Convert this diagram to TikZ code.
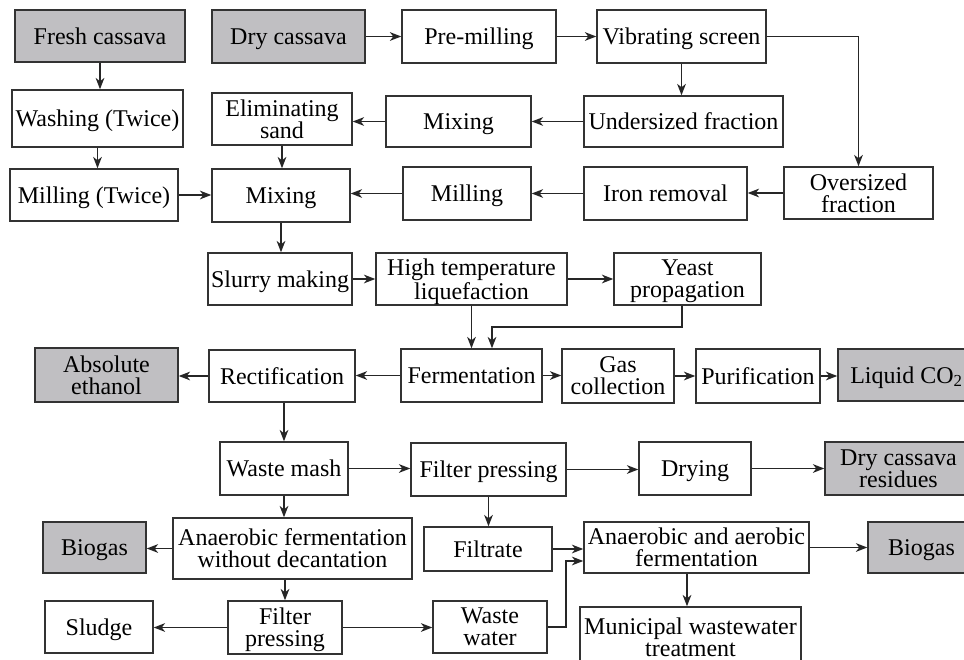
\documentclass[tikz,border=0pt]{standalone}
\usepackage{fontspec}
\setmainfont{Liberation Serif}
\usetikzlibrary{arrows.meta,calc}
\newcommand{\bx}[7]{\node[#7, minimum width={(#4-#2)*0.75pt}, minimum height={(#5-#3)*0.75pt}] (#1) at ({(#2+#4)/2},{(#3+#5)/2}) {#6};}
\tikzset{
  proc/.style={draw=black!80, line width=1.1pt, fill=white, inner sep=0pt, text depth=0pt, align=center, font=\fontsize{18}{16.5}\selectfont},
  prod/.style={proc, fill=prodgray},
  arr/.style={draw=black!85, line width=1.1pt, -{Stealth[length=8.5pt,width=6.5pt,inset=2.5pt]}}
}
\definecolor{prodgray}{RGB}{192,191,194}
\begin{document}
\begin{tikzpicture}[x=0.75pt,y=-0.75pt]
\useasboundingbox (0,0) rectangle (964,660);
\clip (0,0) rectangle (964,660);
\fill[white] (0,0) rectangle (964,660);
% row 1
\bx{fresh}{15}{10}{185}{62}{Fresh cassava}{prod}
\bx{dry}{212}{10}{365}{63}{Dry cassava}{prod}
\bx{premill}{402}{10}{556}{63}{Pre-milling}{proc}
\bx{vib}{597}{10}{766}{63}{Vibrating screen}{proc}
% row 2
\bx{wash}{12}{90}{183}{147}{Washing (Twice)}{proc}
\bx{elim}{212}{93}{352}{145}{Eliminating\\sand}{proc}
\bx{mixa}{386}{96}{531}{147}{Mixing}{proc}
\bx{under}{584}{96}{783}{147}{Undersized fraction}{proc}
% row 3
\bx{millt}{10}{169}{178}{221}{Milling (Twice)}{proc}
\bx{mixm}{212}{169}{350}{222}{Mixing}{proc}
\bx{mill}{403}{167}{531}{220}{Milling}{proc}
\bx{iron}{584}{167}{747}{220}{Iron removal}{proc}
\bx{over}{784}{167}{933}{219}{Oversized\\fraction}{proc}
% row 4
\bx{slurry}{208}{253}{352}{305}{Slurry making}{proc}
\bx{hight}{376}{253}{567}{305}{High temperature\\liquefaction}{proc}
\bx{yeast}{614}{253}{761}{305}{Yeast\\propagation}{proc}
% row 5
\bx{absol}{35}{348}{178}{402}{Absolute\\ethanol}{prod}
\bx{rect}{209}{350}{355}{402}{Rectification}{proc}
\bx{ferm}{401}{349}{542}{402}{Fermentation}{proc}
\bx{gas}{562}{349}{674}{403}{Gas\\collection}{proc}
\bx{puri}{696}{349}{820}{403}{Purification}{proc}
\bx{lco}{838}{349}{975}{401}{Liquid CO\textsubscript{2}}{prod}
% row 6
\bx{wm}{220}{442}{348}{495}{Waste mash}{proc}
\bx{fpa}{411}{443}{566}{496}{Filter pressing}{proc}
\bx{dryg}{639}{442}{751}{495}{Drying}{proc}
\bx{dcr}{825}{442}{972}{495}{Dry cassava\\residues}{prod}
% row 7
\bx{bgl}{43}{522}{146}{573}{Biogas}{prod}
\bx{anaer}{173}{518}{412}{579}{Anaerobic fermentation\\without decantation}{proc}
\bx{filt}{424}{527}{552}{571}{Filtrate}{proc}
\bx{anaerb}{584}{522}{809}{573}{Anaerobic and aerobic\\fermentation}{proc}
\bx{bgr}{868}{522}{975}{573}{Biogas}{prod}
% row 8
\bx{sludge}{45}{601}{153}{653}{Sludge}{proc}
\bx{fpb}{228}{601}{342}{654}{Filter\\pressing}{proc}
\bx{ww}{433}{601}{547}{653}{Waste\\water}{proc}
\bx{muni}{580}{607}{801}{668}{Municipal wastewater\\treatment}{proc}
% helper coordinates
\coordinate (yk) at (682,327);
\coordinate (fk) at (492,0);
\coordinate (wk) at (566,561);
\coordinate (mk) at (687,0);
\coordinate (rk) at (284,0);
% connectors
\draw[arr] (fresh.south) -- (fresh.south |- wash.north);
\draw[arr] (wash.south) -- (wash.south |- millt.north);
\draw[arr] (millt.east) -- (millt.east -| mixm.west);
\draw[arr] (dry.east) -- (dry.east -| premill.west);
\draw[arr] (premill.east) -- (premill.east -| vib.west);
\draw[arr] (vib.south) -- (vib.south |- under.north);
\draw[arr] (vib.east) -| (over.north);
\draw[arr] (under.west) -- (under.west -| mixa.east);
\draw[arr] (mixa.west) -- (mixa.west -| elim.east);
\draw[arr] (elim.south) -- (elim.south |- mixm.north);
\draw[arr] (over.west) -- (over.west -| iron.east);
\draw[arr] (iron.west) -- (iron.west -| mill.east);
\draw[arr] (mill.west) -- (mill.west -| mixm.east);
\draw[arr] (mixm.south) -- (mixm.south |- slurry.north);
\draw[arr] (slurry.east) -- (slurry.east -| hight.west);
\draw[arr] (hight.east) -- (hight.east -| yeast.west);
\draw[arr] (hight.south) -- (hight.south |- ferm.north);
\draw[arr] (yk |- yeast.south) -- (yk) -- (yk -| fk) -- (fk |- ferm.north);
\draw[arr] (ferm.west) -- (ferm.west -| rect.east);
\draw[arr] (rect.west) -- (rect.west -| absol.east);
\draw[arr] (ferm.east) -- (ferm.east -| gas.west);
\draw[arr] (gas.east) -- (gas.east -| puri.west);
\draw[arr] (puri.east) -- (puri.east -| lco.west);
\draw[arr] (rk |- rect.south) -- (rk |- wm.north);
\draw[arr] (wm.east) -- (wm.east -| fpa.west);
\draw[arr] (fpa.east) -- (fpa.east -| dryg.west);
\draw[arr] (dryg.east) -- (dryg.east -| dcr.west);
\draw[arr] (fpa.south) -- (fpa.south |- filt.north);
\draw[arr] (rk |- wm.south) -- (rk |- anaer.north);
\draw[arr] (anaer.west) -- (anaer.west -| bgl.east);
\draw[arr] (fpb.north |- anaer.south) -- (fpb.north);
\draw[arr] (fpb.west) -- (fpb.west -| sludge.east);
\draw[arr] (fpb.east) -- (fpb.east -| ww.west);
\draw[arr] (filt.east) -- (filt.east -| anaerb.west);
\draw[arr] (ww.east) -| (wk) -- (wk -| anaerb.west);
\draw[arr] (anaerb.east) -- (anaerb.east -| bgr.west);
\draw[arr] (mk |- anaerb.south) -- (mk |- muni.north);
\end{tikzpicture}
\end{document}
